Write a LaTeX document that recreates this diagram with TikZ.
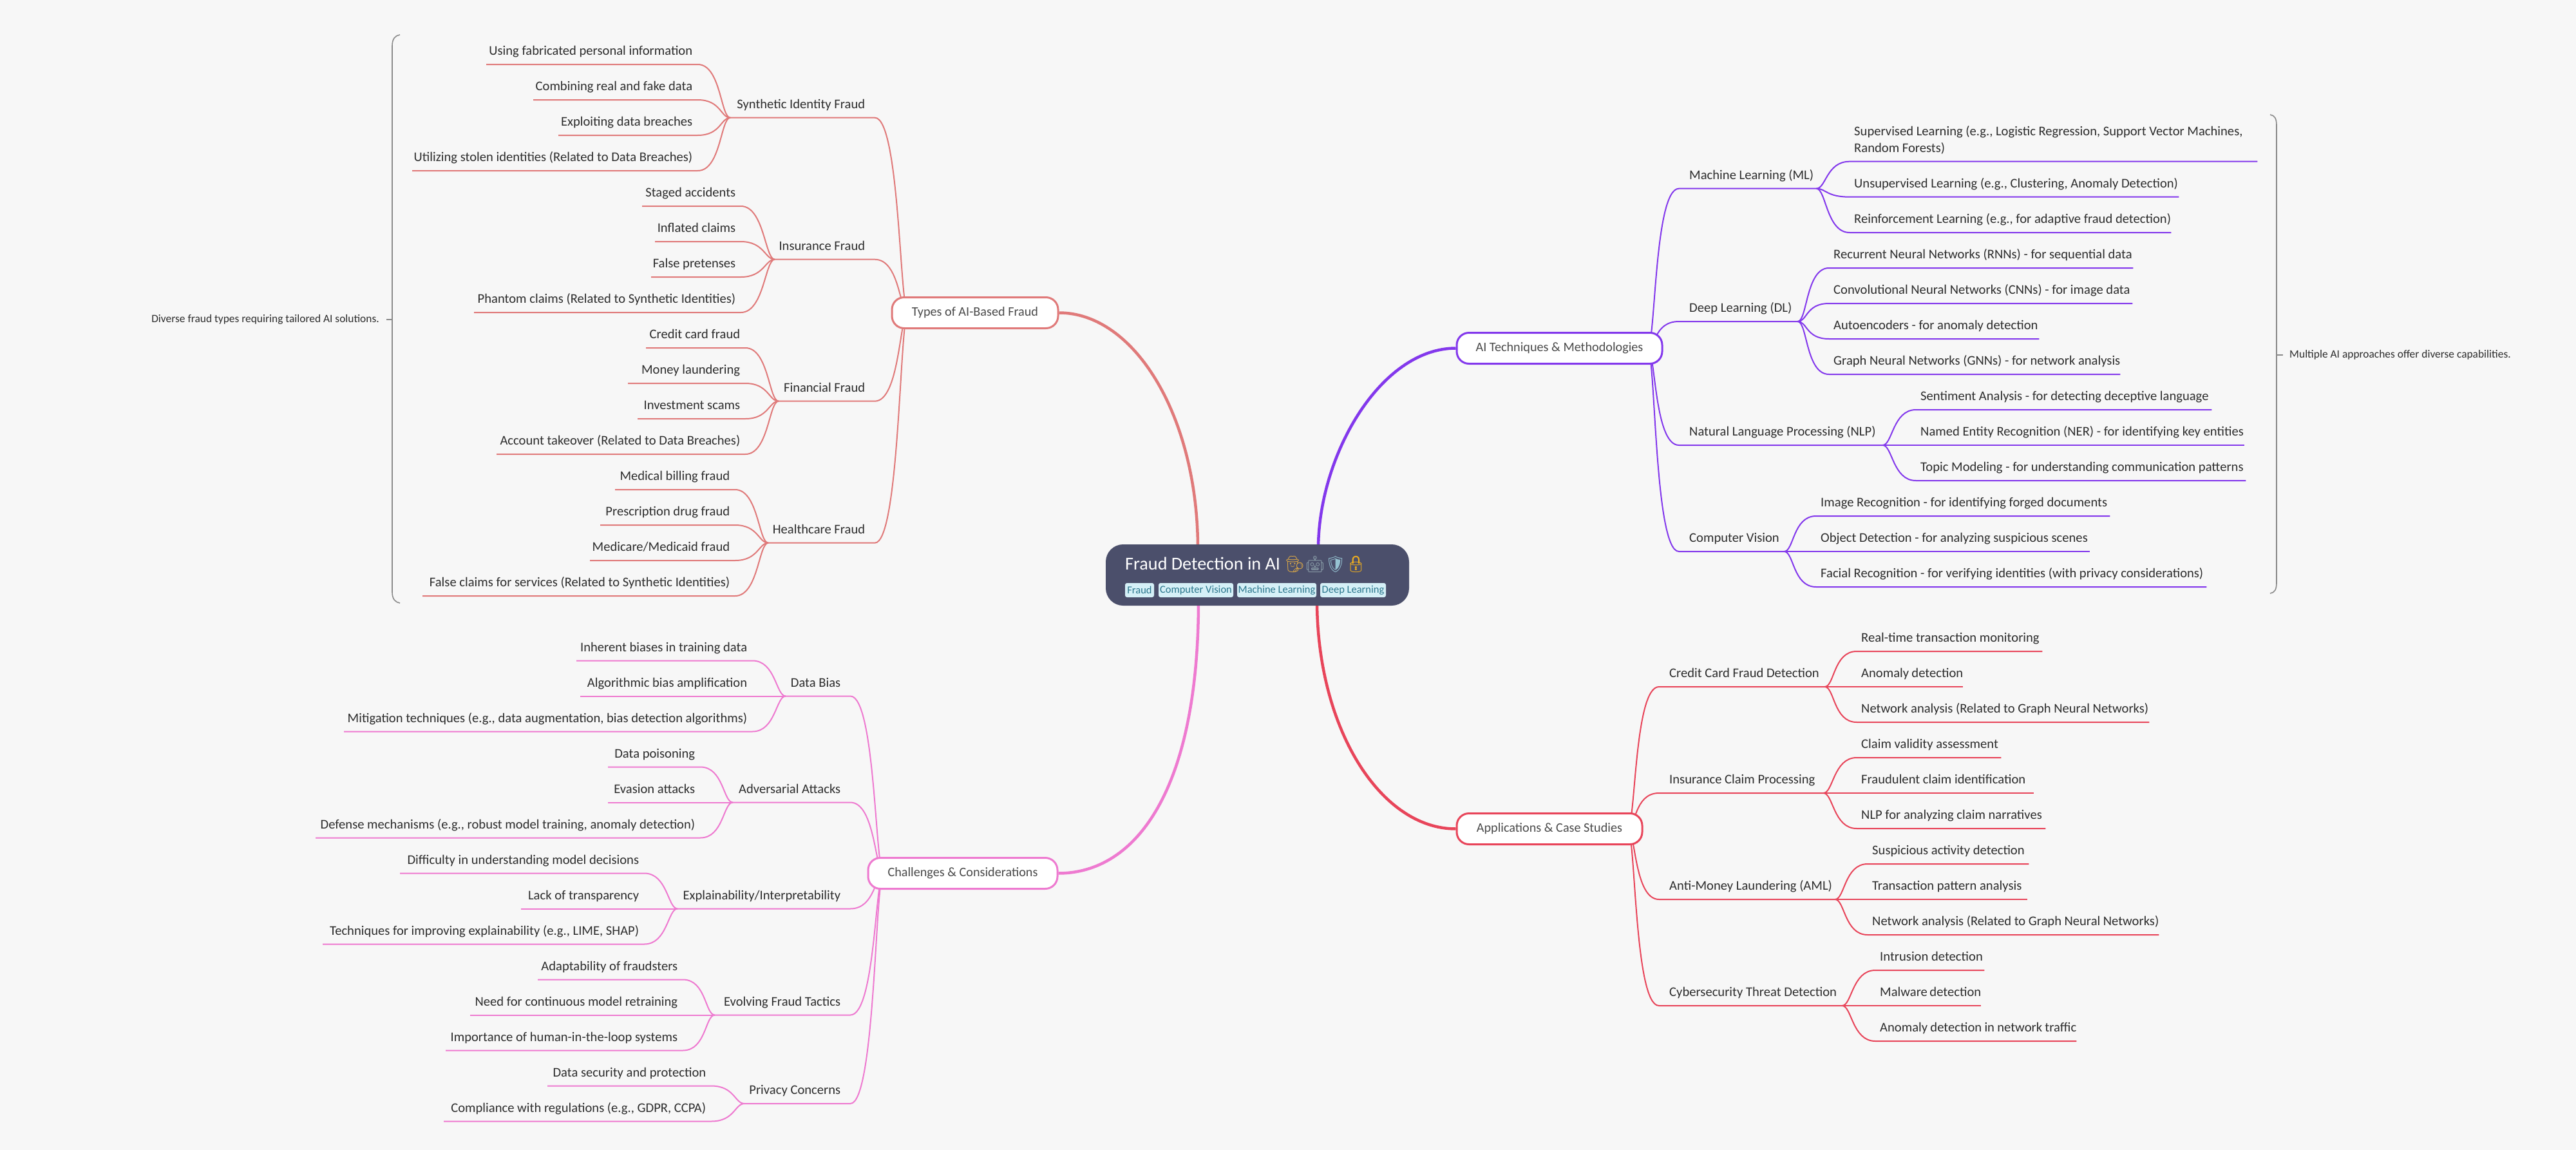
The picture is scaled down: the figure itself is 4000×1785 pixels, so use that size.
\documentclass[tikz,border=0pt]{standalone}
\usepackage{fontspec}
\setmainfont{Carlito}
\newfontfamily\emojifont{Noto Emoji}
\definecolor{pagebg}{RGB}{247, 247, 247}
\definecolor{typescol}{RGB}{224, 122, 122}
\definecolor{challcol}{RGB}{238, 122, 208}
\definecolor{aicol}{RGB}{131, 56, 236}
\definecolor{appscol}{RGB}{232, 69, 90}
\definecolor{rootcol}{RGB}{75, 79, 107}
\definecolor{chipcol}{RGB}{213, 240, 247}
\definecolor{chipink}{RGB}{42, 118, 140}
\definecolor{leafink}{RGB}{45, 45, 45}
\definecolor{boxink}{RGB}{74, 74, 74}
\definecolor{bracketcol}{RGB}{138, 138, 138}
\tikzset{
    leaf/.style={inner sep=0pt, anchor=south west, text depth=14pt, text height=14pt, text=leafink, font=\fontsize{20.6}{26}\selectfont},
    leafr/.style={leaf, align=flush left, execute at begin node=\hspace*{7pt}},
    leafl/.style={leaf, align=flush right, execute at end node=\hspace*{8pt}},
    bigr/.style={leaf, align=flush left, execute at begin node=\hspace*{16pt}},
    bigl/.style={leaf, align=flush right, execute at end node=\hspace*{15pt}},
    catbox/.style={rectangle, rounded corners=19pt, fill=white, line width=3pt, minimum height=48pt, inner sep=0pt, text=boxink, text height=14pt, text depth=5pt, font=\fontsize{20.2}{26}\selectfont},
    chip/.style={rectangle, rounded corners=3pt, fill=chipcol, text=chipink, minimum height=22pt, inner sep=0pt, font=\fontsize{16.5}{18}\selectfont},
    note/.style={text=leafink, font=\fontsize{17.4}{20}\selectfont},
    twig/.style={line width=2pt},
    rootlink/.style={line width=4.5pt},
    bracket/.style={draw=bracketcol, line width=1.6pt},
    linkr/.style={out=0, in=180, out distance=13pt, in distance=39pt},
    linkl/.style={out=180, in=0, out distance=13pt, in distance=39pt},
    twigr/.style={out=0, in=180, out distance=15pt, in distance=36pt},
    twigl/.style={out=180, in=0, out distance=15pt, in distance=36pt}
}

\begin{document}
\begin{tikzpicture}[x=1pt, y=-1pt]
    \path[use as bounding box, fill=pagebg] (0,0) rectangle (4000,1785);

    \coordinate (typesOut) at (1410,485.5);
    \coordinate (challOut) at (1372,1355.5);
    \coordinate (aiOut) at (2558,540.5);
    \coordinate (appsOut) at (2527,1286.5);

    \node[bigl, text width=224pt] (syn) at (1134,182.7) {Synthetic Identity Fraud};
    \node[bigl, text width=155pt] (ins) at (1203,402.7) {Insurance Fraud};
    \node[bigl, text width=149pt] (fin) at (1209,622.7) {Financial Fraud};
    \node[bigl, text width=165pt] (hlt) at (1193,842.7) {Healthcare Fraud};

    \node[leafl, text width=328pt] (using) at (755,100) {Using fabricated personal information};
    \node[leafl, text width=255pt] (comb) at (828,155) {Combining real and fake data};
    \node[leafl, text width=216pt] (expl) at (867,210) {Exploiting data breaches};
    \node[leafl, text width=443pt] (util) at (640,265) {Utilizing stolen identities (Related to Data Breaches)};
    \node[leafl, text width=153pt] (stag) at (997,320) {Staged accidents};
    \node[leafl, text width=133pt] (infl) at (1017,375) {Inflated claims};
    \node[leafl, text width=139pt] (fals) at (1011,430) {False pretenses};
    \node[leafl, text width=414pt] (phan) at (736,485) {Phantom claims (Related to Synthetic Identities)};
    \node[leafl, text width=154pt] (cred) at (1003,540) {Credit card fraud};
    \node[leafl, text width=182pt] (mone) at (975,595) {Money laundering};
    \node[leafl, text width=167pt] (inve) at (990,650) {Investment scams};
    \node[leafl, text width=386pt] (acco) at (771,705) {Account takeover (Related to Data Breaches)};
    \node[leafl, text width=186pt] (medb) at (955,760) {Medical billing fraud};
    \node[leafl, text width=209pt] (pres) at (932,815) {Prescription drug fraud};
    \node[leafl, text width=225pt] (medi) at (916,870) {Medicare/Medicaid fraud};
    \node[leafl, text width=485pt] (fcla) at (656,925) {False claims for services (Related to Synthetic Identities)};

    \draw[twig, typescol] (typesOut) to[linkl] (syn.south east) -- (syn.south west);
    \draw[twig, typescol] (typesOut) to[linkl] (ins.south east) -- (ins.south west);
    \draw[twig, typescol] (typesOut) to[linkl] (fin.south east) -- (fin.south west);
    \draw[twig, typescol] (typesOut) to[linkl] (hlt.south east) -- (hlt.south west);
    \draw[twig, typescol] (syn.south west) to[twigl] (using.south east) -- (using.south west);
    \draw[twig, typescol] (syn.south west) to[twigl] (comb.south east) -- (comb.south west);
    \draw[twig, typescol] (syn.south west) to[twigl] (expl.south east) -- (expl.south west);
    \draw[twig, typescol] (syn.south west) to[twigl] (util.south east) -- (util.south west);
    \draw[twig, typescol] (ins.south west) to[twigl] (stag.south east) -- (stag.south west);
    \draw[twig, typescol] (ins.south west) to[twigl] (infl.south east) -- (infl.south west);
    \draw[twig, typescol] (ins.south west) to[twigl] (fals.south east) -- (fals.south west);
    \draw[twig, typescol] (ins.south west) to[twigl] (phan.south east) -- (phan.south west);
    \draw[twig, typescol] (fin.south west) to[twigl] (cred.south east) -- (cred.south west);
    \draw[twig, typescol] (fin.south west) to[twigl] (mone.south east) -- (mone.south west);
    \draw[twig, typescol] (fin.south west) to[twigl] (inve.south east) -- (inve.south west);
    \draw[twig, typescol] (fin.south west) to[twigl] (acco.south east) -- (acco.south west);
    \draw[twig, typescol] (hlt.south west) to[twigl] (medb.south east) -- (medb.south west);
    \draw[twig, typescol] (hlt.south west) to[twigl] (pres.south east) -- (pres.south west);
    \draw[twig, typescol] (hlt.south west) to[twigl] (medi.south east) -- (medi.south west);
    \draw[twig, typescol] (hlt.south west) to[twigl] (fcla.south east) -- (fcla.south west);

    \node[bigl, text width=100pt] (dbi) at (1220,1080.5) {Data Bias};
    \node[bigl, text width=182pt] (adv) at (1138,1245.5) {Adversarial Attacks};
    \node[bigl, text width=268pt] (exi) at (1052,1410.5) {Explainability/Interpretability};
    \node[bigl, text width=210pt] (evo) at (1110,1575.5) {Evolving Fraud Tactics};
    \node[bigl, text width=164pt] (prv) at (1156,1713) {Privacy Concerns};

    \node[leafl, text width=273pt] (inh) at (895,1025.5) {Inherent biases in training data};
    \node[leafl, text width=267pt] (alg) at (901,1080.5) {Algorithmic bias amplification};
    \node[leafl, text width=634pt] (mit) at (534,1135.5) {Mitigation techniques (e.g., data augmentation, bias detection algorithms)};
    \node[leafl, text width=143pt] (poi) at (944,1190.5) {Data poisoning};
    \node[leafl, text width=143pt] (eva) at (944,1245.5) {Evasion attacks};
    \node[leafl, text width=597pt] (dfn) at (490,1300.5) {Defense mechanisms (e.g., robust model training, anomaly detection)};
    \node[leafl, text width=379pt] (dif) at (621,1355.5) {Difficulty in understanding model decisions};
    \node[leafl, text width=191pt] (lac) at (809,1410.5) {Lack of transparency};
    \node[leafl, text width=499pt] (tec) at (501,1465.5) {Techniques for improving explainability (e.g., LIME, SHAP)};
    \node[leafl, text width=225pt] (ada) at (835,1520.5) {Adaptability of fraudsters};
    \node[leafl, text width=330pt] (nee) at (730,1575.5) {Need for continuous model retraining};
    \node[leafl, text width=368pt] (imp) at (692,1630.5) {Importance of human-in-the-loop systems};
    \node[leafl, text width=254pt] (sec) at (850,1685.5) {Data security and protection};
    \node[leafl, text width=415pt] (cmp) at (689,1740.5) {Compliance with regulations (e.g., GDPR, CCPA)};

    \draw[twig, challcol] (challOut) to[linkl] (dbi.south east) -- (dbi.south west);
    \draw[twig, challcol] (challOut) to[linkl] (adv.south east) -- (adv.south west);
    \draw[twig, challcol] (challOut) to[linkl] (exi.south east) -- (exi.south west);
    \draw[twig, challcol] (challOut) to[linkl] (evo.south east) -- (evo.south west);
    \draw[twig, challcol] (challOut) to[linkl] (prv.south east) -- (prv.south west);
    \draw[twig, challcol] (dbi.south west) to[twigl] (inh.south east) -- (inh.south west);
    \draw[twig, challcol] (dbi.south west) to[twigl] (alg.south east) -- (alg.south west);
    \draw[twig, challcol] (dbi.south west) to[twigl] (mit.south east) -- (mit.south west);
    \draw[twig, challcol] (adv.south west) to[twigl] (poi.south east) -- (poi.south west);
    \draw[twig, challcol] (adv.south west) to[twigl] (eva.south east) -- (eva.south west);
    \draw[twig, challcol] (adv.south west) to[twigl] (dfn.south east) -- (dfn.south west);
    \draw[twig, challcol] (exi.south west) to[twigl] (dif.south east) -- (dif.south west);
    \draw[twig, challcol] (exi.south west) to[twigl] (lac.south east) -- (lac.south west);
    \draw[twig, challcol] (exi.south west) to[twigl] (tec.south east) -- (tec.south west);
    \draw[twig, challcol] (evo.south west) to[twigl] (ada.south east) -- (ada.south west);
    \draw[twig, challcol] (evo.south west) to[twigl] (nee.south east) -- (nee.south west);
    \draw[twig, challcol] (evo.south west) to[twigl] (imp.south east) -- (imp.south west);
    \draw[twig, challcol] (prv.south west) to[twigl] (sec.south east) -- (sec.south west);
    \draw[twig, challcol] (prv.south west) to[twigl] (cmp.south east) -- (cmp.south west);

    \node[bigr, text width=213pt] (ml) at (2607,292.7) {Machine Learning (ML)};
    \node[bigr, text width=184pt] (dl) at (2607,499) {Deep Learning (DL)};
    \node[bigr, text width=316pt] (nlp) at (2607,691) {Natural Language Processing (NLP)};
    \node[bigr, text width=163pt] (cv) at (2607,856) {Computer Vision};

    \node[leaf, inner xsep=7pt, text width=619pt, align=flush left, text depth=40pt] (sup) at (2872,250.7) {Supervised Learning (e.g., Logistic Regression, Support Vector Machines,\\Random Forests)};
    \node[leafr, text width=511pt] (uns) at (2872,305.7) {Unsupervised Learning (e.g., Clustering, Anomaly Detection)};
    \node[leafr, text width=499pt] (rei) at (2872,361) {Reinforcement Learning (e.g., for adaptive fraud detection)};
    \node[leafr, text width=472pt] (rnn) at (2840,416) {Recurrent Neural Networks (RNNs) - for sequential data};
    \node[leafr, text width=471pt] (cnn) at (2840,471) {Convolutional Neural Networks (CNNs) - for image data};
    \node[leafr, text width=326pt] (aut) at (2840,526) {Autoencoders - for anomaly detection};
    \node[leafr, text width=452pt] (gnn) at (2840,581) {Graph Neural Networks (GNNs) - for network analysis};
    \node[leafr, text width=459pt] (sen) at (2975,636) {Sentiment Analysis - for detecting deceptive language};
    \node[leafr, text width=510pt] (ner) at (2975,691) {Named Entity Recognition (NER) - for identifying key entities};
    \node[leafr, text width=512pt] (top) at (2975,746) {Topic Modeling - for understanding communication patterns};
    \node[leafr, text width=456pt] (img) at (2820,801) {Image Recognition - for identifying forged documents};
    \node[leafr, text width=425pt] (obj) at (2820,856) {Object Detection - for analyzing suspicious scenes};
    \node[leafr, text width=606pt] (fac) at (2820,911) {Facial Recognition - for verifying identities (with privacy considerations)};

    \draw[twig, aicol] (aiOut) to[linkr] (ml.south west) -- (ml.south east);
    \draw[twig, aicol] (aiOut) to[linkr] (dl.south west) -- (dl.south east);
    \draw[twig, aicol] (aiOut) to[linkr] (nlp.south west) -- (nlp.south east);
    \draw[twig, aicol] (aiOut) to[linkr] (cv.south west) -- (cv.south east);
    \draw[twig, aicol] (ml.south east) to[twigr] (sup.south west) -- (sup.south east);
    \draw[twig, aicol] (ml.south east) to[twigr] (uns.south west) -- (uns.south east);
    \draw[twig, aicol] (ml.south east) to[twigr] (rei.south west) -- (rei.south east);
    \draw[twig, aicol] (dl.south east) to[twigr] (rnn.south west) -- (rnn.south east);
    \draw[twig, aicol] (dl.south east) to[twigr] (cnn.south west) -- (cnn.south east);
    \draw[twig, aicol] (dl.south east) to[twigr] (aut.south west) -- (aut.south east);
    \draw[twig, aicol] (dl.south east) to[twigr] (gnn.south west) -- (gnn.south east);
    \draw[twig, aicol] (nlp.south east) to[twigr] (sen.south west) -- (sen.south east);
    \draw[twig, aicol] (nlp.south east) to[twigr] (ner.south west) -- (ner.south east);
    \draw[twig, aicol] (nlp.south east) to[twigr] (top.south west) -- (top.south east);
    \draw[twig, aicol] (cv.south east) to[twigr] (img.south west) -- (img.south east);
    \draw[twig, aicol] (cv.south east) to[twigr] (obj.south west) -- (obj.south east);
    \draw[twig, aicol] (cv.south east) to[twigr] (fac.south west) -- (fac.south east);

    \node[bigr, text width=257pt] (ccd) at (2576,1066) {Credit Card Fraud Detection};
    \node[bigr, text width=255pt] (icp) at (2576,1231) {Insurance Claim Processing};
    \node[bigr, text width=273pt] (aml) at (2576,1396) {Anti-Money Laundering (AML)};
    \node[bigr, text width=284pt] (cyb) at (2576,1561) {Cybersecurity Threat Detection};

    \node[leafr, text width=288pt] (rtm) at (2883,1011) {Real-time transaction monitoring};
    \node[leafr, text width=165pt] (ano) at (2883,1066) {Anomaly detection};
    \node[leafr, text width=454pt] (net) at (2883,1121) {Network analysis (Related to Graph Neural Networks)};
    \node[leafr, text width=224pt] (clv) at (2883,1176) {Claim validity assessment};
    \node[leafr, text width=275pt] (frd) at (2883,1231) {Fraudulent claim identification};
    \node[leafr, text width=293pt] (nlc) at (2883,1286) {NLP for analyzing claim narratives};
    \node[leafr, text width=250pt] (sus) at (2900,1341) {Suspicious activity detection};
    \node[leafr, text width=248pt] (trn) at (2900,1396) {Transaction pattern analysis};
    \node[leafr, text width=452pt] (nta) at (2900,1451) {Network analysis (Related to Graph Neural Networks)};
    \node[leafr, text width=169pt] (itr) at (2912,1506) {Intrusion detection};
    \node[leafr, text width=164pt] (mal) at (2912,1561) {Malware~detection};
    \node[leafr, text width=312pt] (ant) at (2912,1616) {Anomaly detection in network traffic};

    \draw[twig, appscol] (appsOut) to[linkr] (ccd.south west) -- (ccd.south east);
    \draw[twig, appscol] (appsOut) to[linkr] (icp.south west) -- (icp.south east);
    \draw[twig, appscol] (appsOut) to[linkr] (aml.south west) -- (aml.south east);
    \draw[twig, appscol] (appsOut) to[linkr] (cyb.south west) -- (cyb.south east);
    \draw[twig, appscol] (ccd.south east) to[twigr] (rtm.south west) -- (rtm.south east);
    \draw[twig, appscol] (ccd.south east) to[twigr] (ano.south west) -- (ano.south east);
    \draw[twig, appscol] (ccd.south east) to[twigr] (net.south west) -- (net.south east);
    \draw[twig, appscol] (icp.south east) to[twigr] (clv.south west) -- (clv.south east);
    \draw[twig, appscol] (icp.south east) to[twigr] (frd.south west) -- (frd.south east);
    \draw[twig, appscol] (icp.south east) to[twigr] (nlc.south west) -- (nlc.south east);
    \draw[twig, appscol] (aml.south east) to[twigr] (sus.south west) -- (sus.south east);
    \draw[twig, appscol] (aml.south east) to[twigr] (trn.south west) -- (trn.south east);
    \draw[twig, appscol] (aml.south east) to[twigr] (nta.south west) -- (nta.south east);
    \draw[twig, appscol] (cyb.south east) to[twigr] (itr.south west) -- (itr.south east);
    \draw[twig, appscol] (cyb.south east) to[twigr] (mal.south west) -- (mal.south east);
    \draw[twig, appscol] (cyb.south east) to[twigr] (ant.south west) -- (ant.south east);

    \node[catbox, draw=typescol, minimum width=258pt] (types) at (1514,485.5) {Types of AI-Based Fraud};
    \node[catbox, draw=challcol, minimum width=294pt] (chall) at (1495,1355.5) {Challenges \& Considerations};
    \node[catbox, draw=aicol, minimum width=319pt] (ai) at (2421.5,540.5) {AI Techniques \& Methodologies};
    \node[catbox, draw=appscol, minimum width=288pt] (apps) at (2406,1286.5) {Applications \& Case Studies};

    \coordinate (rootTypes) at (1860,852);
    \coordinate (rootChall) at (1861,932);
    \coordinate (rootAi) at (2047,852);
    \coordinate (rootApps) at (2045,932);

    \draw[rootlink, typescol] (types.east) .. controls (1762,485.5) and (1860,647) .. (rootTypes);
    \draw[rootlink, challcol] (chall.east) .. controls (1762,1355.5) and (1861,1230) .. (rootChall);
    \draw[rootlink, aicol] (ai.west) .. controls (2143,540.5) and (2047,708) .. (rootAi);
    \draw[rootlink, appscol] (apps.west) .. controls (2143,1286.5) and (2045,1130) .. (rootApps);

    \node[rectangle, rounded corners=27pt, fill=rootcol, minimum width=471pt, minimum height=95pt] (root) at (1952.5,892.5) {};
    \node[anchor=base west, inner sep=0pt, text=white, font=\fontsize{28.2}{30}\selectfont] (title) at (1747,884) {Fraud Detection in AI {\emojifont\fontsize{25}{30}\selectfont\textcolor[RGB]{222,170,70}{🕵}\textcolor[RGB]{140,160,170}{🤖}\textcolor[RGB]{150,195,210}{🛡}\textcolor[RGB]{240,175,30}{🔒}}};
    \node[chip, minimum width=45pt] (chipFraud) at (1769.5,916) {Fraud};
    \node[chip, minimum width=116pt] (chipVision) at (1857,916) {Computer Vision};
    \node[chip, minimum width=123pt] (chipMachine) at (1982.5,916) {Machine Learning};
    \node[chip, minimum width=102pt] (chipDeep) at (2101,916) {Deep Learning};

    \node[note, anchor=west, inner sep=10pt] (noteAi) at (3545,551) {Multiple AI approaches offer diverse capabilities.};
    \node[note, anchor=east, inner sep=11pt] (noteTypes) at (600,496) {Diverse fraud types requiring tailored AI solutions.};

    \coordinate (aiTop) at (3525,178);
    \coordinate (aiBot) at (3525,921);
    \coordinate (aiMid) at (3535,551);
    \coordinate (typesTop) at (621,54);
    \coordinate (typesBot) at (621,936);
    \coordinate (typesMid) at (609,496);

    \draw[bracket] (aiTop) .. controls (3532,179) and (3535,184) .. (3535,195) -- (3535,904) .. controls (3535,915) and (3532,920) .. (aiBot);
    \draw[bracket] (aiMid) -- (noteAi.west);
    \draw[bracket] (typesTop) .. controls (614,55) and (609,60) .. (609,71) -- (609,919) .. controls (609,930) and (614,935) .. (typesBot);
    \draw[bracket] (typesMid) -- (noteTypes.east);
\end{tikzpicture}
\end{document}
